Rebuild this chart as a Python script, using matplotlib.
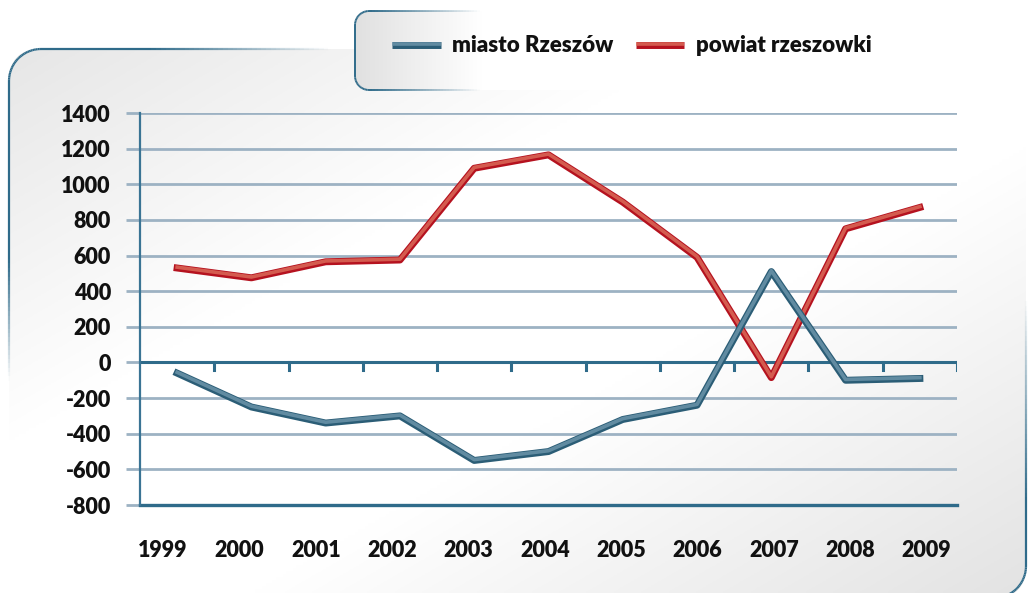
import numpy as np
import matplotlib.pyplot as plt
import matplotlib.patheffects as pe
from matplotlib.patches import FancyBboxPatch
from matplotlib.collections import LineCollection
from matplotlib.lines import Line2D
from matplotlib.colors import to_rgba

# dane
lata = ["1999", "2000", "2001", "2002", "2003", "2004", "2005", "2006", "2007", "2008", "2009"]
miasto = [-60, -250, -340, -300, -550, -500, -320, -240, 510, -100, -90]
powiat = [530, 475, 565, 575, 1090, 1165, 900, 590, -85, 750, 870]
y_ticks = [-800, -600, -400, -200, 0, 200, 400, 600, 800, 1000, 1200, 1400]

plt.rcParams['font.family'] = ['Lato', 'DejaVu Sans']
plt.rcParams['font.weight'] = 'heavy'
plt.rcParams['text.color'] = '#111111'
plt.rcParams['ytick.labelcolor'] = '#111111'
plt.rcParams['xtick.labelcolor'] = '#111111'

W, H = 1028, 593
fig = plt.figure(figsize=(W / 100, H / 100), dpi=100)

# tlo - zaokraglone pudelka z gradientem
bg = fig.add_axes([0, 0, 1, 1], zorder=0)
bg.set_xlim(0, W)
bg.set_ylim(H, 0)
bg.axis("off")

xx, yy = np.meshgrid(np.linspace(0, 1, 300), np.linspace(0, 1, 200))
t = (xx + yy) / 2
g = 1 - 0.11 * np.clip((np.abs(2 * t - 1) - 0.25) / 0.75, 0, 1)
img = np.dstack([g, g, g])
x0, y0, x1, y1, r = 9, 49, 1026, 598, 32
box = FancyBboxPatch((x0, y0), x1 - x0, y1 - y0, boxstyle="round,pad=0,rounding_size=32",
                     facecolor="none", edgecolor="none", zorder=2)
bg.add_patch(box)
im = bg.imshow(img, extent=(0, W, H, 0), aspect="auto", zorder=1)
im.set_clip_path(box)

# obramowanie z zanikaniem
a = np.linspace(np.pi, 1.5 * np.pi, 30)
a2 = np.linspace(1.5 * np.pi, 2 * np.pi, 30)
a3 = np.linspace(0, 0.5 * np.pi, 30)
px = np.concatenate([np.full(120, x0), x0 + r + r * np.cos(a), np.linspace(x0 + r, x1 - r, 200),
                     x1 - r + r * np.cos(a2), np.full(100, x1), x1 - r + r * np.cos(a3)])
py = np.concatenate([np.linspace(y1, y0 + r, 120), y0 + r + r * np.sin(a), np.full(200, y0),
                     y0 + r + r * np.sin(a2), np.linspace(y0 + r, y1 - r, 100), y1 - r + r * np.sin(a3)])
seg = np.stack([np.column_stack([px[:-1], py[:-1]]), np.column_stack([px[1:], py[1:]])], axis=1)
mx, my = (px[:-1] + px[1:]) / 2, (py[:-1] + py[1:]) / 2
alpha = np.ones_like(mx)
left = mx < W / 2
alpha[left] = np.clip((380 - my[left]) / 120, 0, 1)
top = (my < y0 + r + 1) & (mx > x0 + r)
alpha[top] = np.clip((330 - mx[top]) / 180, 0, 1)
right = mx > W / 2
alpha[right] = np.clip((my[right] - 300) / 200, 0, 1)
kol = np.array([to_rgba("#2f6b8a", al) for al in alpha])
bg.add_collection(LineCollection(seg, colors=kol, linewidths=1.6, zorder=3))

# pudelko legendy
gl = 1 - 0.12 * np.clip(1 - np.linspace(0, 1, 300) / 0.3, 0, 1)
img2 = np.dstack([gl, gl, gl]).repeat(20, axis=0)
lbox = FancyBboxPatch((355, 11), 420, 79, boxstyle="round,pad=0,rounding_size=14",
                      facecolor="white", edgecolor="none", zorder=4)
bg.add_patch(lbox)
im2 = bg.imshow(img2, extent=(355, 775, 90, 11), aspect="auto", zorder=5)
im2.set_clip_path(lbox)
lx = np.concatenate([np.linspace(480, 369, 40), 369 + 14 * np.cos(np.linspace(1.5 * np.pi, np.pi, 15)),
                     [355, 355], 369 + 14 * np.cos(np.linspace(np.pi, 0.5 * np.pi, 15)),
                     np.linspace(369, 480, 40)])
lyy = np.concatenate([np.full(40, 11), 25 + 14 * np.sin(np.linspace(1.5 * np.pi, np.pi, 15)),
                      [25, 76], 76 + 14 * np.sin(np.linspace(np.pi, 0.5 * np.pi, 15)),
                      np.full(40, 90)])
lseg = np.stack([np.column_stack([lx[:-1], lyy[:-1]]), np.column_stack([lx[1:], lyy[1:]])], axis=1)
lal = np.clip((480 - (lx[:-1] + lx[1:]) / 2) / 110, 0, 1)
bg.add_collection(LineCollection(lseg, colors=[to_rgba("#2f6b8a", al) for al in lal],
                                 linewidths=1.4, zorder=6))

# wykres
ax = fig.add_axes([140 / W, 1 - 505 / H, 817 / W, 392 / H], zorder=1)
ax.patch.set_alpha(0)
x = np.arange(len(lata))
ax.set_xlim(-0.5, len(lata) - 0.5)
ax.set_ylim(-800, 1400)

for v in y_ticks:
    if v in (0, -800):
        continue
    ax.axhline(v, color="#9db2c3", linewidth=2, zorder=1)
ax.axhline(0, color="#2f6b8a", linewidth=2.2, zorder=2)
ax.axhline(-800, color="#2f6b8a", linewidth=2.4, zorder=2, clip_on=False)
ax.plot(np.repeat(x[1:] - 0.5, 3), np.tile([0, -45, np.nan], len(x) - 1),
        color="#2f6b8a", linewidth=2.2, zorder=2)
ax.plot([len(lata) - 0.5] * 2, [0, -45], color="#2f6b8a", linewidth=2.2, zorder=2)

for s in ["top", "right", "bottom"]:
    ax.spines[s].set_visible(False)
ax.spines["left"].set_color("#3a7494")
ax.spines["left"].set_linewidth(1.6)

ax.set_yticks(y_ticks)
ax.set_yticklabels([str(v) for v in y_ticks])
ax.tick_params(axis="y", length=10, width=2, color="#9db2c3", pad=11, labelsize=15.5)
ax.set_xticks(x * 1.028 - 0.19)
ax.set_xticklabels(lata)
ax.tick_params(axis="x", length=0, pad=25, labelsize=15.5)


def tuba(ciemny, jasny):
    return [pe.Stroke(linewidth=5, foreground=ciemny, joinstyle="round"),
            pe.Stroke(linewidth=2.6, foreground=jasny, offset=(0, 0.6), joinstyle="round", alpha=0.8)]


niebieski = tuba("#2b5d76", "#6f97ad")
czerwony = tuba("#b5121f", "#dc6e5c")
ax.plot(x, powiat, color="#b5121f", linewidth=5, zorder=3, path_effects=czerwony)
ax.plot(x, miasto, color="#2b5d76", linewidth=5, zorder=4, path_effects=niebieski)

hm = Line2D([], [], color="#2b5d76", linewidth=5, solid_capstyle="butt", path_effects=niebieski)
hp = Line2D([], [], color="#b5121f", linewidth=5, solid_capstyle="butt", path_effects=czerwony)
fig.legend([hm, hp], ["miasto Rzeszów", "powiat rzeszowki"], loc="center left",
           bbox_to_anchor=(392 / W, 1 - 46 / H), ncol=2, frameon=False,
           prop={"size": 16, "weight": "heavy"}, handlelength=2.2, handletextpad=0.5,
           columnspacing=1.0, borderpad=0, borderaxespad=0)

fig.savefig("out.png", dpi=100)
